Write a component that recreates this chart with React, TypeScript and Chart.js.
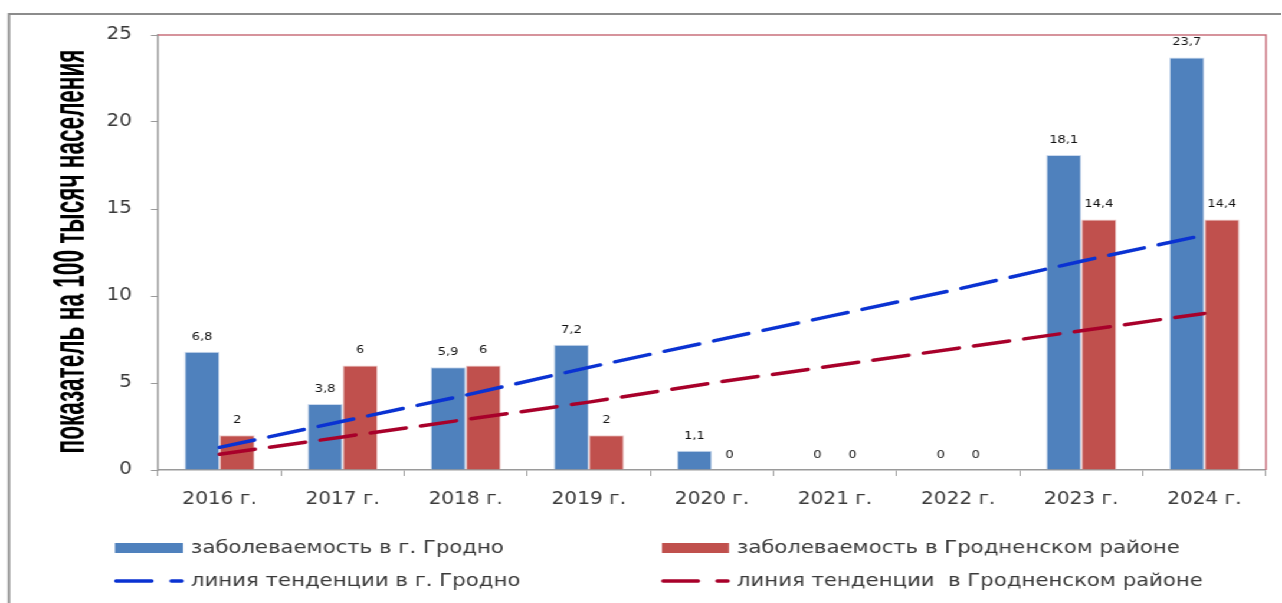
import React, { useEffect, useRef } from "react";
import { Chart, registerables } from "chart.js";

Chart.register(...registerables);

const categories = ["2016 г.", "2017 г.", "2018 г.", "2019 г.", "2020 г.", "2021 г.", "2022 г.", "2023 г.", "2024 г."];
const grodnoValues = [6.8, 3.8, 5.9, 7.2, 1.1, 0, 0, 18.1, 23.7];
const districtValues = [2, 6, 6, 2, 0, 0, 0, 14.4, 14.4];
const grodnoTrend = [1.3, 2.8, 4.3, 5.9, 7.4, 8.9, 10.4, 12.0, 13.5];
const districtTrend = [0.9, 1.9, 2.9, 3.9, 5.0, 6.0, 7.0, 8.0, 9.0];
const yTickValues = [0, 5, 10, 15, 20, 25];
const legendLabels = [
  "заболеваемость в г. Гродно",
  "заболеваемость в Гродненском районе",
  "линия тенденции в г. Гродно",
  "линия тенденции  в Гродненском районе",
];
const yTitle = "показатель на 100 тысяч населения";

// the reference picture is stretched horizontally; the chart is drawn narrower and scaled in X
const S = 1.18;
const X = (v: number) => v / S;

const BLUE = "#4F81BD";
const RED = "#C0504D";
const TREND_BLUE = "#0A32D2";
const TREND_RED = "#A8002A";
const TEXT = "#3a3a3a";
const AXIS = "#9a9a9a";
const FONT = '"DejaVu Sans", Verdana, sans-serif';

const fmt = (v: number) => String(v).replace(".", ",");

const framePlugin = {
  id: "frame",
  beforeDraw(chart: any) {
    const ctx = chart.ctx;
    ctx.save();
    ctx.fillStyle = "#ffffff";
    ctx.fillRect(0, 0, chart.width, chart.height);
    ctx.strokeStyle = "#8c8c8c";
    ctx.lineWidth = 2;
    ctx.beginPath();
    ctx.moveTo(X(9), chart.height + 5);
    ctx.lineTo(X(9), 14);
    ctx.lineTo(chart.width + 5, 14);
    ctx.stroke();
    ctx.restore();
  },
  beforeDatasetsDraw(chart: any) {
    const { ctx, chartArea } = chart;
    ctx.save();
    ctx.strokeStyle = "#C9707C";
    ctx.lineWidth = 1.5;
    ctx.beginPath();
    ctx.moveTo(chartArea.left, chartArea.top);
    ctx.lineTo(chartArea.right, chartArea.top);
    ctx.lineTo(chartArea.right, chartArea.bottom);
    ctx.stroke();
    ctx.restore();
  },
};

const labelsPlugin = {
  id: "valueLabels",
  afterDatasetsDraw(chart: any) {
    const ctx = chart.ctx;
    ctx.save();
    ctx.font = `11px ${FONT}`;
    ctx.fillStyle = "#111";
    ctx.textAlign = "center";
    ctx.textBaseline = "middle";
    chart.data.datasets.forEach((ds: any, i: number) => {
      if (ds.type !== "bar") return;
      const meta = chart.getDatasetMeta(i);
      meta.data.forEach((el: any, j: number) => {
        const v = ds.data[j];
        ctx.fillText(fmt(v), el.x, el.y - 15);
      });
    });
    ctx.restore();
  },
};

const titleLegendPlugin = {
  id: "titleLegend",
  afterDraw(chart: any) {
    const ctx = chart.ctx;
    // y axis title
    ctx.save();
    ctx.font = `bold 38px "Liberation Sans Narrow", "Liberation Sans", Arial, sans-serif`;
    const w = ctx.measureText(yTitle).width;
    const len = 404;
    ctx.translate(X(84), 251.5);
    ctx.rotate(-Math.PI / 2);
    ctx.scale(len / w, 1.14 / S);
    ctx.fillStyle = "#000";
    ctx.textAlign = "center";
    ctx.textBaseline = "alphabetic";
    ctx.fillText(yTitle, 0, 0);
    ctx.restore();

    // legend
    ctx.save();
    ctx.font = `18px ${FONT}`;
    ctx.textBaseline = "middle";
    ctx.textAlign = "left";
    const rows = [548, 581];
    const cols = [
      { x0: X(115), x1: X(183), tx: X(191) },
      { x0: X(662), x1: X(729), tx: X(737) },
    ];
    ctx.fillStyle = BLUE;
    ctx.fillRect(cols[0].x0, rows[0] - 5, cols[0].x1 - cols[0].x0, 10);
    ctx.fillStyle = RED;
    ctx.fillRect(cols[1].x0, rows[0] - 5, cols[1].x1 - cols[1].x0, 10);
    const dash = (x0: number, x1: number, y: number, color: string) => {
      ctx.strokeStyle = color;
      ctx.lineWidth = 3.5;
      ctx.lineCap = "round";
      ctx.beginPath();
      ctx.moveTo(x0, y);
      ctx.lineTo(x0 + (x1 - x0) * 0.54, y);
      ctx.moveTo(x0 + (x1 - x0) * 0.84, y);
      ctx.lineTo(x1, y);
      ctx.stroke();
    };
    dash(cols[0].x0 + 1, cols[0].x1 - 1, rows[1], TREND_BLUE);
    dash(cols[1].x0 + 1, cols[1].x1 - 1, rows[1], TREND_RED);
    ctx.fillStyle = TEXT;
    ctx.fillText(legendLabels[0], cols[0].tx, rows[0]);
    ctx.fillText(legendLabels[1], cols[1].tx, rows[0]);
    ctx.fillText(legendLabels[2], cols[0].tx, rows[1]);
    ctx.fillText(legendLabels[3], cols[1].tx, rows[1]);
    ctx.restore();
  },
};

export default function App() {
  const ref = useRef<HTMLCanvasElement | null>(null);

  useEffect(() => {
    if (!ref.current) return;
    const chart = new Chart(ref.current, {
      type: "bar",
      data: {
        labels: categories,
        datasets: [
          {
            type: "line",
            label: legendLabels[2],
            data: grodnoTrend,
            borderColor: TREND_BLUE,
            borderWidth: 3.5,
            borderDash: [X(36), X(15)],
            borderCapStyle: "round",
            pointRadius: 0,
            fill: false,
            tension: 0,
            order: -2,
          } as any,
          {
            type: "line",
            label: legendLabels[3],
            data: districtTrend,
            borderColor: TREND_RED,
            borderWidth: 3.5,
            borderDash: [X(36), X(15)],
            borderCapStyle: "round",
            pointRadius: 0,
            fill: false,
            tension: 0,
            order: -1,
          } as any,
          {
            type: "bar",
            label: legendLabels[0],
            data: grodnoValues,
            backgroundColor: BLUE,
            borderColor: "rgba(190,208,232,0.8)",
            borderWidth: 1,
            categoryPercentage: 0.57,
            barPercentage: 1,
            order: 1,
          },
          {
            type: "bar",
            label: legendLabels[1],
            data: districtValues,
            backgroundColor: RED,
            borderColor: "rgba(232,190,190,0.8)",
            borderWidth: 1,
            categoryPercentage: 0.57,
            barPercentage: 1,
            order: 1,
          },
        ],
      },
      options: {
        animation: false,
        responsive: true,
        maintainAspectRatio: false,
        events: [],
        layout: { padding: { left: X(8), right: X(16), top: 35, bottom: 0 } },
        plugins: {
          legend: { display: false },
          tooltip: { enabled: false },
          title: { display: false },
        },
        scales: {
          x: {
            grid: {
              display: true,
              drawOnChartArea: false,
              drawTicks: true,
              tickLength: 6,
              color: AXIS,
              offset: true,
            },
            border: { color: AXIS, width: 1.5 },
            ticks: { font: { family: FONT, size: 17 }, color: TEXT, padding: 13 },
            afterFit: (s: any) => {
              s.height = 133;
            },
          },
          y: {
            min: 0,
            max: 25,
            grid: {
              display: true,
              drawOnChartArea: false,
              drawTicks: true,
              tickLength: 6,
              color: AXIS,
            },
            border: { color: AXIS, width: 1.5 },
            afterBuildTicks: (s: any) => {
              s.ticks = yTickValues.map((v) => ({ value: v }));
            },
            ticks: { font: { family: FONT, size: 17 }, color: TEXT, padding: 16 },
            afterFit: (s: any) => {
              s.width = X(150);
            },
          },
        },
      },
      plugins: [framePlugin, labelsPlugin, titleLegendPlugin],
    });
    return () => chart.destroy();
  }, []);

  return (
    <div
      style={{
        position: "fixed",
        left: 0,
        top: 0,
        width: 1282 / S,
        height: 603,
        background: "#fff",
        transform: `scaleX(${S})`,
        transformOrigin: "0 0",
      }}
    >
      <canvas ref={ref} />
    </div>
  );
}
